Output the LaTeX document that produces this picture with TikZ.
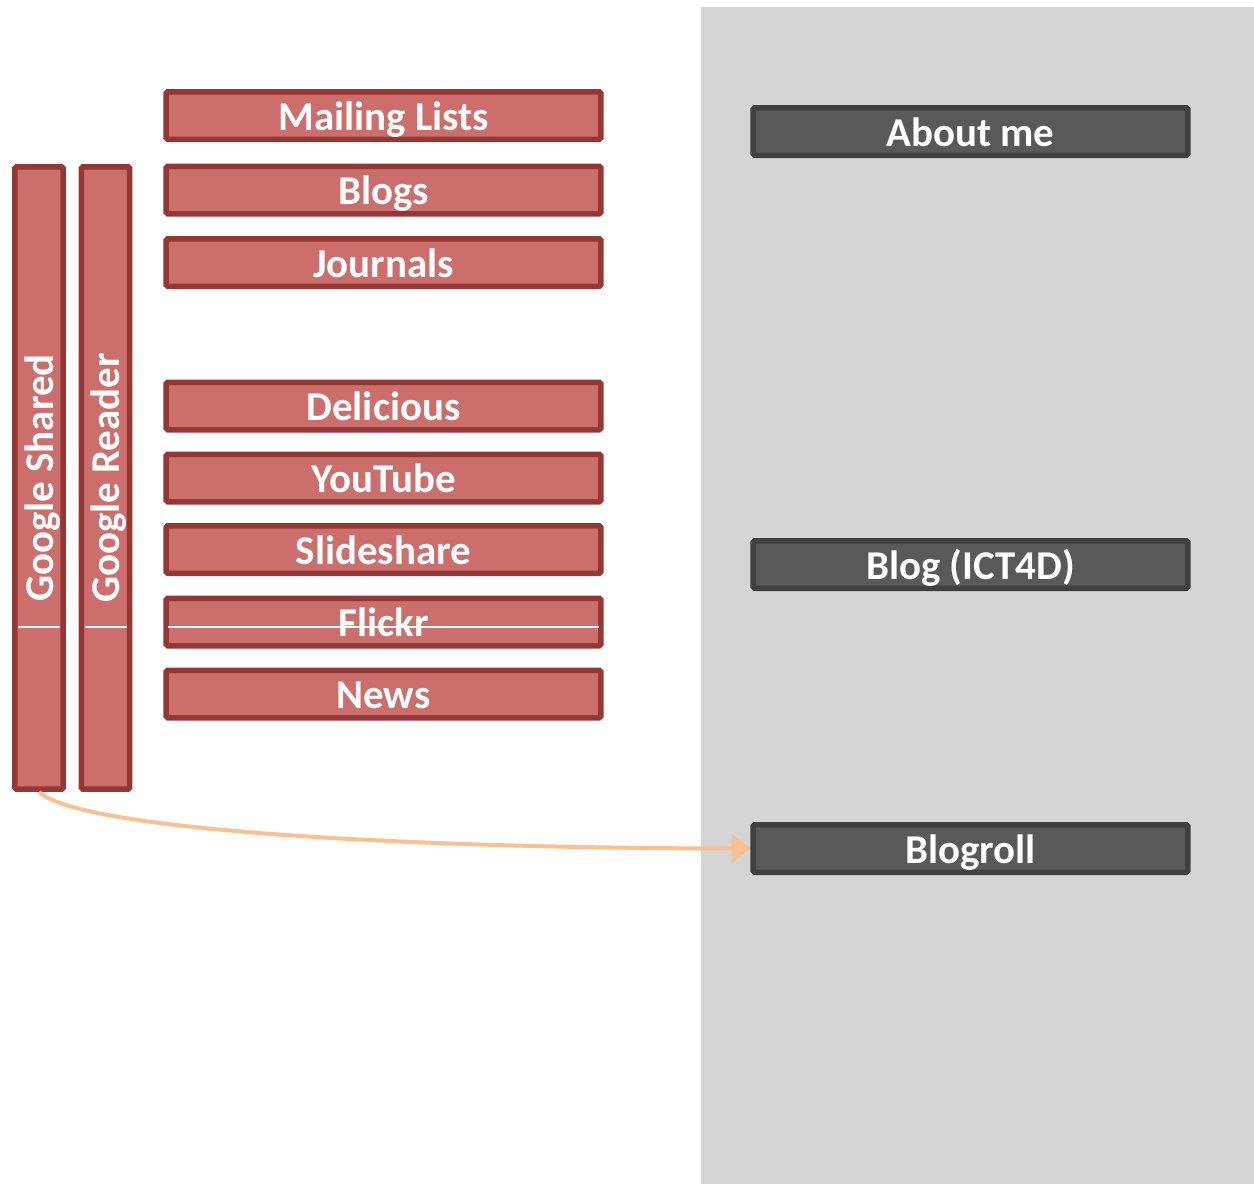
\documentclass[tikz,border=0pt]{standalone}
\usepackage{fontspec}
\setmainfont{Carlito}
\usetikzlibrary{arrows.meta}
\definecolor{boxred}{RGB}{204,110,107}
\definecolor{linered}{RGB}{149,55,53}
\definecolor{boxgrey}{RGB}{89,89,89}
\definecolor{linegrey}{RGB}{64,64,64}
\definecolor{panelgrey}{RGB}{213,213,213}
\definecolor{arroworange}{RGB}{250,192,144}
\begin{document}
\begin{tikzpicture}[x=0.02cm,y=-0.02cm]
\tikzstyle{source}=[draw=linered, fill=boxred, line width=0.11cm, rounded corners=1pt, text=white, font=\fontsize{23.3}{28}\selectfont\bfseries, minimum width=8.7cm, minimum height=0.95cm, inner sep=0pt, text height=0.68cm, text depth=0.1cm]
\tikzstyle{reader}=[source, rotate=90, minimum width=12.45cm, minimum height=0.97cm]
\tikzstyle{target}=[source, draw=linegrey, fill=boxgrey]
\tikzstyle{arrow}=[-{Triangle[length=0.37cm,width=0.58cm]}, arroworange, line width=0.08cm]
\useasboundingbox (0,0) rectangle (1254,1184);
\fill[panelgrey] (701,7) rectangle (1254,1184);

\draw node[source] (ML) at (383.5,115.5) {Mailing Lists};
\draw node[source] (BL) at (383.5,190) {Blogs};
\draw node[source] (JO) at (383.5,262.5) {Journals};
\draw node[source] (DE) at (383.5,406) {Delicious};
\draw node[source] (YT) at (383.5,478) {YouTube};
\draw node[source] (SS) at (383.5,549.5) {Slideshare};
\draw node[source] (FL) at (383.5,622) {Flickr};
\draw node[source] (NE) at (383.5,694) {News};

\draw node[reader] (GS) at (39,478) {Google Shared};
\draw node[reader] (GR) at (105.5,478) {Google Reader};

\draw[white, line width=0.6pt] (18,627) -- (60,627);
\draw[white, line width=0.6pt] (85,627) -- (127,627);
\draw[white, line width=0.6pt] (168,627) -- (599,627);

\draw node[target] (AM) at (970.5,131.5) {About me};
\draw node[target] (BI) at (970.5,564.5) {Blog (ICT4D)};
\draw node[target] (BR) at (970.5,848.5) {Blogroll};

\draw[arrow] (GS.west) .. controls (80,830) and (400,848) .. (BR.west);

\end{tikzpicture}
\end{document}
